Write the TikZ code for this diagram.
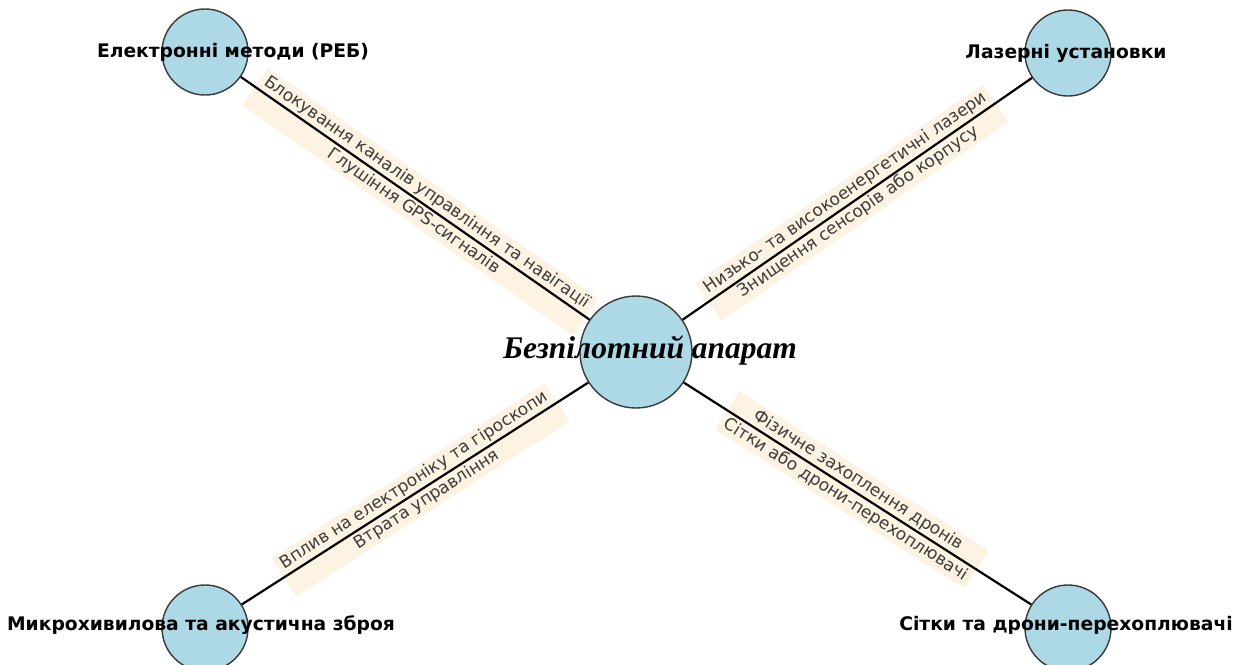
\documentclass[tikz,border=0pt]{standalone}
\usepackage{fontspec}
\setmainfont{DejaVu Sans}
\newfontfamily\dvfont{DejaVu Sans}
\newfontfamily\serifont{Liberation Serif}
\usetikzlibrary{calc}
\definecolor{circfill}{HTML}{ADD8E6}
\definecolor{circline}{HTML}{3A3A3A}
\definecolor{boxfill}{HTML}{FCF3E3}
\definecolor{elabtext}{HTML}{3C3C3C}
\tikzset{
  circ/.style={circle, fill=circfill, draw=circline, line width=1.4pt, minimum size=86pt, inner sep=0pt},
  bigcirc/.style={circ, minimum size=112pt},
  nlabel/.style={font=\dvfont\bfseries\fontsize{18.7}{22}\selectfont, text=black, inner sep=0pt},
  clabel/.style={font=\serifont\bfseries\itshape\fontsize{31.5}{36}\selectfont, text=black, inner sep=0pt},
  elabel/.style={font=\dvfont\fontsize{17}{23}\selectfont, text=elabtext, fill=boxfill, align=center, inner xsep=5pt, inner ysep=3pt, sloped},
  conn/.style={draw=black, line width=2.2pt}
}
\begin{document}
\begin{tikzpicture}[x=1pt,y=-1pt]
\useasboundingbox (0,0) rectangle (1250,664);
\coordinate (pTL) at (205,52);
\coordinate (pTR) at (1068,53);
\coordinate (pC) at (636,352);
\coordinate (pBL) at (205,628);
\coordinate (pBR) at (1068,628);
% edge label boxes
\path (pTL) -- (pC) node[midway, elabel] (lTL) {Блокування каналів управління та навігації\\Глушіння GPS-сигналів};
\path (pC) -- (pTR) node[midway, elabel] (lTR) {Низько- та високоенергетичні лазери\\Знищення сенсорів або корпусу};
\path (pBL) -- (pC) node[midway, elabel] (lBL) {Вплив на електроніку та гіроскопи\\Втрата управління};
\path (pC) -- (pBR) node[midway, elabel] (lBR) {Фізичне захоплення дронів\\Сітки або дрони-перехоплювачі};
% circles
\node[circ] (tl) at (pTL) {};
\node[circ] (tr) at (pTR) {};
\node[bigcirc] (c) at (pC) {};
\node[circ] (bl) at (pBL) {};
\node[circ] (br) at (pBR) {};
% connectors
\draw[conn] (tl) -- (c);
\draw[conn] (c) -- (tr);
\draw[conn] (c) -- (bl);
\draw[conn] (c) -- (br);
% node labels
\node[nlabel] (ttl) at (233,52) {Електронні методи (РЕБ)};
\node[nlabel] (ttr) at (1066,53) {Лазерні установки};
\node[nlabel] (tbl) at (201,625) {Микрохивилова та акустична зброя};
\node[nlabel] (tbr) at (1066,625) {Сітки та дрони-перехоплювачі};
\node[clabel] (tc) at (650,350) {Безпілотний апарат};
\end{tikzpicture}
\end{document}
